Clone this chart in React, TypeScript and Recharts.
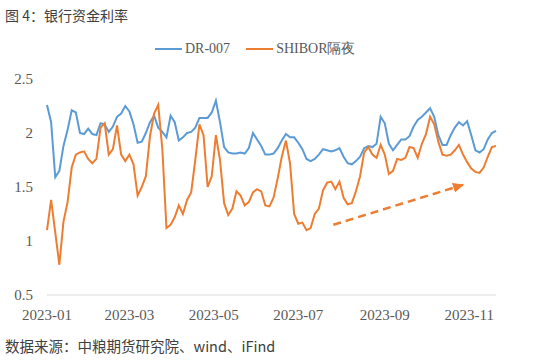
import { LineChart, Line, XAxis, YAxis, ReferenceLine } from "recharts";

// sampled every 2 trading days, starting 2023-01-03
const dr007 = [
  2.26, 2.1, 1.59, 1.65, 1.88, 2.03, 2.21, 2.19, 2.0, 1.99,
  2.04, 1.99, 1.98, 2.09, 2.08, 2.01, 2.06, 2.15, 2.18, 2.25,
  2.2, 2.08, 1.91, 1.92, 2.0, 2.1, 2.16, 2.05, 2.01, 1.96,
  2.16, 2.1, 1.93, 1.96, 2.0, 2.01, 2.05, 2.14, 2.14, 2.14,
  2.19, 2.3, 2.1, 1.87, 1.82, 1.81, 1.81, 1.82, 1.81, 1.86,
  2.0, 1.94, 1.88, 1.8, 1.8, 1.81, 1.86, 1.93, 1.99, 1.96,
  1.96, 1.91, 1.85, 1.76, 1.74, 1.76, 1.8, 1.85, 1.84, 1.83,
  1.84, 1.86, 1.78, 1.72, 1.71, 1.74, 1.78, 1.86, 1.88, 1.87,
  1.9, 2.15, 2.09, 1.9, 1.84, 1.89, 1.94, 1.94, 1.97, 2.06,
  2.12, 2.15, 2.19, 2.23, 2.15, 1.98, 1.89, 1.89, 1.98, 2.05,
  2.1, 2.07, 2.11, 1.98, 1.84, 1.82, 1.85, 1.94, 2.0, 2.02,
];

const shibor = [
  1.1, 1.38, 1.08, 0.78, 1.18, 1.36, 1.68, 1.8, 1.82, 1.83,
  1.76, 1.72, 1.76, 2.05, 2.09, 1.8, 1.85, 2.07, 1.8, 1.74,
  1.8, 1.71, 1.42, 1.5, 1.6, 1.97, 2.18, 2.26, 1.85, 1.12,
  1.15, 1.22, 1.33, 1.25, 1.38, 1.45, 1.75, 2.08, 1.98, 1.5,
  1.6, 1.98, 1.75, 1.35, 1.24, 1.3, 1.46, 1.42, 1.33, 1.36,
  1.45, 1.48, 1.46, 1.33, 1.32, 1.4, 1.58, 1.78, 1.93, 1.72,
  1.25, 1.16, 1.17, 1.1, 1.12, 1.25, 1.3, 1.47, 1.54, 1.55,
  1.48, 1.55, 1.4, 1.34, 1.35, 1.46, 1.6, 1.82, 1.87, 1.8,
  1.77, 1.89, 1.8, 1.62, 1.65, 1.76, 1.75, 1.77, 1.87, 1.86,
  1.77, 1.9, 1.99, 2.15, 2.08, 1.92, 1.8, 1.79, 1.8, 1.84,
  1.89, 1.8, 1.73, 1.67, 1.64, 1.63, 1.68, 1.78, 1.87, 1.88,
];

const tickDays = [0, 40, 81, 122, 164, 205];
const tickLabels = ["2023-01", "2023-03", "2023-05", "2023-07", "2023-09", "2023-11"];
const rateTicks = [0.5, 1, 1.5, 2, 2.5];

// dashed trend arrow (trading day, rate)
const trendFrom = { day: 139, rate: 1.15 };
const trendTo = { day: 202, rate: 1.52 };

const BLUE = "#5B9BD5";
const ORANGE = "#ED7D31";
const GREY = "#595959";

const series = [
  { key: "dr", name: "DR-007", color: BLUE },
  { key: "shibor", name: "SHIBOR隔夜", color: ORANGE },
];

const data = dr007.map((v, i) => ({ day: i * 2, dr: v, shibor: shibor[i] }));

const cjk = '"Noto Sans CJK SC", "Noto Sans", sans-serif';
const serif = '"Liberation Serif", "DejaVu Serif", serif';

const TrendArrow = (props: any) => (
  <g>
    <defs>
      <marker
        id="trendHead"
        markerWidth="11"
        markerHeight="10"
        refX="10"
        refY="5"
        orient="auto"
        markerUnits="userSpaceOnUse"
      >
        <path d="M0,0 L11,5 L0,10 z" fill={ORANGE} />
      </marker>
    </defs>
    <line
      x1={props.x1}
      y1={props.y1}
      x2={props.x2}
      y2={props.y2}
      stroke={ORANGE}
      strokeWidth={2.5}
      strokeDasharray="8 5"
      markerEnd="url(#trendHead)"
    />
  </g>
);

export default function App() {
  return (
    <div
      style={{
        position: "absolute",
        left: 0,
        top: 0,
        width: 541,
        height: 362,
        background: "#fff",
        overflow: "hidden",
      }}
    >
      <div
        style={{
          position: "absolute",
          left: 5,
          top: 5,
          fontFamily: cjk,
          fontSize: 14,
          color: "#404040",
          whiteSpace: "nowrap",
        }}
      >
        图 4：银行资金利率
      </div>

      <div
        style={{
          position: "absolute",
          left: 155,
          top: 40,
          display: "flex",
          alignItems: "center",
          fontFamily: serif,
          fontSize: 14,
          color: GREY,
          whiteSpace: "nowrap",
        }}
      >
        {series.map((s) => (
          <span
            key={s.key}
            style={{ display: "flex", alignItems: "center", marginRight: 16 }}
          >
            <span
              style={{
                display: "inline-block",
                width: 27,
                height: 2,
                background: s.color,
                marginRight: 3,
              }}
            />
            {s.name}
          </span>
        ))}
      </div>

      <div style={{ position: "absolute", left: 0, top: 0 }}>
        <LineChart
          width={541}
          height={362}
          data={data}
          margin={{ top: 79, right: 45, bottom: 37, left: 7 }}
        >
          <XAxis
            dataKey="day"
            type="number"
            domain={[0, 218]}
            ticks={tickDays}
            interval={0}
            tickFormatter={(d: number) => tickLabels[tickDays.indexOf(d)] ?? ""}
            axisLine={{ stroke: "#D9D9D9", strokeWidth: 1 }}
            tickLine={false}
            tickSize={0}
            tickMargin={14}
            height={30}
            tick={{ fill: GREY, fontSize: 15, fontFamily: serif }}
          />
          <YAxis
            domain={[0.5, 2.5]}
            ticks={rateTicks}
            interval={0}
            axisLine={false}
            tickLine={false}
            tickSize={0}
            tickMargin={14}
            width={40}
            tick={{ fill: GREY, fontSize: 15, fontFamily: serif }}
          />
          {series.map((s) => (
            <Line
              key={s.key}
              dataKey={s.key}
              name={s.name}
              type="linear"
              stroke={s.color}
              strokeWidth={2}
              dot={false}
              activeDot={false}
              isAnimationActive={false}
            />
          ))}
          <ReferenceLine
            segment={[
              { x: trendFrom.day, y: trendFrom.rate },
              { x: trendTo.day, y: trendTo.rate },
            ]}
            shape={TrendArrow}
            ifOverflow="visible"
          />
        </LineChart>
      </div>

      <div
        style={{
          position: "absolute",
          left: 5,
          top: 335,
          fontFamily: cjk,
          fontSize: 14.5,
          color: "#404040",
          whiteSpace: "nowrap",
        }}
      >
        数据来源：中粮期货研究院、wind、iFind
      </div>
    </div>
  );
}
